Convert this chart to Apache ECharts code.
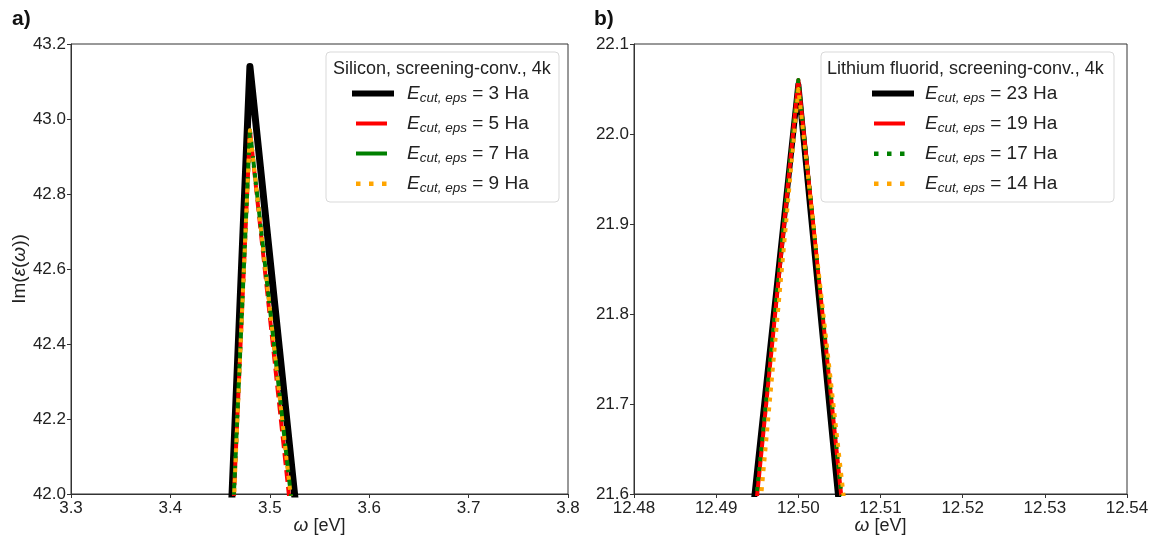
<!DOCTYPE html>
<html><head><meta charset="utf-8">
<script src="https://cdn.jsdelivr.net/npm/echarts@6/dist/echarts.min.js"></script>
<style>html,body{margin:0;padding:0;background:#fff}#c{width:1150px;height:537px}</style>
</head><body><div id="c"></div>
<script>
// ---- data ----
const siX = [3.43, 3.48, 3.53];
const si3 = [39.97, 43.14, 41.87];
const si5 = [39.94, 42.97, 41.73];
const si7 = [39.96, 42.97, 41.79];
const si9 = [39.90, 42.97, 41.78];
const siNames = ['3 Ha', '5 Ha', '7 Ha', '9 Ha'];

const lifX = [12.49, 12.50, 12.51];
const lif23 = [21.20, 22.055, 21.11];
const lif19 = [21.14, 22.06, 21.175];
const lif17 = [21.15, 22.06, 21.18];
const lif14 = [21.05, 22.05, 21.23];
const lifNames = ['23 Ha', '19 Ha', '17 Ha', '14 Ha'];

const siXTicks = {min: 3.3, max: 3.8, interval: 0.1};
const siYTicks = {min: 42.0, max: 43.2, interval: 0.2};
const lifXTicks = {min: 12.48, max: 12.54, interval: 0.01};
const lifYTicks = {min: 21.6, max: 22.1, interval: 0.1};

function pairs(xs, ys){ return xs.map((x,i)=>[x, ys[i]]); }

const FONT = '"Liberation Sans", Arial, sans-serif';
const labelStyle = {color:'#222', fontSize:17, fontFamily:FONT};
const ital = {fontStyle:'italic', fontSize:19, fontFamily:FONT, color:'#222'};

function xAxis(idx, t, dec){
  return {type:'value', gridIndex:idx, min:t.min, max:t.max, interval:t.interval,
    name:'{w|ω}{n| [eV]}', nameLocation:'middle', nameGap:32, nameMoveOverlap:false,
    nameTextStyle:{color:'#222', fontSize:18, fontFamily:FONT, verticalAlign:'middle',
      rich:{w:ital, n:{fontSize:18, fontFamily:FONT, color:'#222'}}},
    axisLine:{show:true, onZero:false, lineStyle:{color:'#333', width:1}},
    axisTick:{show:true, length:4, lineStyle:{color:'#333'}},
    axisLabel:Object.assign({margin:6, formatter:v=>v.toFixed(dec)}, labelStyle),
    splitLine:{show:false}};
}
function yAxis(idx, t, dec, name){
  return {type:'value', gridIndex:idx, min:t.min, max:t.max, interval:t.interval,
    name:name||'', nameLocation:'middle', nameGap:42, nameRotate:90,
    nameTextStyle:{color:'#222', fontSize:19, fontFamily:FONT, rich:{w:ital, n:{fontSize:19, fontFamily:FONT, color:'#222'}}},
    axisLine:{show:true, onZero:false, lineStyle:{color:'#333', width:1}},
    axisTick:{show:true, length:4, lineStyle:{color:'#333'}},
    axisLabel:Object.assign({margin:5, formatter:v=>v.toFixed(dec)}, labelStyle),
    splitLine:{show:false}};
}

function ser(name, idx, xs, ys, color, width, type, z){
  return {name:name, type:'line', xAxisIndex:idx, yAxisIndex:idx, data:pairs(xs, ys),
    symbol:'none', showSymbol:false, clip:true, z:z, animation:false,
    lineStyle:{color:color, width:width, type:type, cap:'butt', join:'round'},
    itemStyle:{color:color}};
}

const rich = {
  e:{fontStyle:'italic', fontSize:19, fontFamily:FONT, color:'#222'},
  s:{fontStyle:'italic', fontSize:13.5, fontFamily:FONT, color:'#222', padding:[9,0,0,0]},
  n:{fontSize:19, fontFamily:FONT, color:'#222'}
};
function legendFmt(name){ const v = name.split('|')[1]; return '{e|E}{s|cut, eps}{n| = ' + v + '}'; }

// legend icon shapes (42x16 box; tiny corner squares fix the box)
const BOX = 'M0,0h0.01v0.01h-0.01z M41.99,15.99h0.01v0.01h-0.01z ';
const iconThick = 'path://' + BOX + 'M0,5h42v6h-42z';
const iconLineL = 'path://' + BOX + 'M4,6h31v4h-31z';
const iconDotsL = 'path://' + BOX + 'M4,6h4.5v4.5h-4.5z M17,6h4.5v4.5h-4.5z M30,6h4.5v4.5h-4.5z';
const iconLineR = 'path://' + BOX + 'M2,6h31v4h-31z';
const iconDotsR = 'path://' + BOX + 'M2,6h4.5v4.5h-4.5z M15,6h4.5v4.5h-4.5z M28,6h4.5v4.5h-4.5z';

function legend(left, names, icons, textPad){
  return {show:true, orient:'vertical', left:left, top:84,
    padding:0, itemGap:9, itemWidth:42, itemHeight:16, symbolKeepAspect:false,
    itemStyle:{borderWidth:0},
    data:names.map((n,i)=>({name:n, icon:icons[i]})),
    formatter:legendFmt, textStyle:{rich:rich, padding:[0,0,0,textPad]}, selectedMode:false, z:20};
}

const siFull = siNames.map((n,i)=>'si'+i+'|'+n);
const lifFull = lifNames.map((n,i)=>'lif'+i+'|'+n);

const option = {
  backgroundColor:'#fff',
  animation:false,
  textStyle:{fontFamily:FONT},
  title:[
    {text:'a)', left:7, top:4, textStyle:{fontSize:21, fontWeight:'bold', color:'#111', fontFamily:FONT}},
    {text:'b)', left:589, top:4, textStyle:{fontSize:21, fontWeight:'bold', color:'#111', fontFamily:FONT}},
    {text:'Silicon, screening-conv., 4k', left:328, top:55, z:30, textStyle:{fontSize:18, fontWeight:'normal', color:'#222', fontFamily:FONT}},
    {text:'Lithium fluorid, screening-conv., 4k', left:822, top:55, z:30, textStyle:{fontSize:18, fontWeight:'normal', color:'#222', fontFamily:FONT}}
  ],
  graphic:[
    {type:'rect', z:15, shape:{x:326, y:52, width:233, height:150, r:4}, style:{fill:'rgba(255,255,255,0.85)', stroke:'#d9d9d9', lineWidth:1}},
    {type:'rect', z:15, shape:{x:821, y:52, width:293, height:150, r:4}, style:{fill:'rgba(255,255,255,0.85)', stroke:'#d9d9d9', lineWidth:1}}
  ],
  grid:[
    {left:71, right:582, top:44, bottom:43, show:true, borderColor:'#333', borderWidth:1, containLabel:false, outerBoundsMode:'none'},
    {left:634, right:23, top:44, bottom:43, show:true, borderColor:'#333', borderWidth:1, containLabel:false, outerBoundsMode:'none'}
  ],
  xAxis:[xAxis(0, siXTicks, 1), xAxis(1, lifXTicks, 2)],
  yAxis:[yAxis(0, siYTicks, 1, '{n|Im(}{w|ε}{n|(}{w|ω}{n|))}'), yAxis(1, lifYTicks, 1)],
  legend:[
    legend(352, siFull, [iconThick, iconLineL, iconLineL, iconDotsL], 8),
    legend(872, lifFull, [iconThick, iconLineR, iconDotsR, iconDotsR], 6)
  ],
  series:[
    ser(siFull[0], 0, siX, si3, '#000000', 7, 'solid', 2),
    ser(siFull[1], 0, siX, si5, '#ff0000', 4, [12,5], 3),
    ser(siFull[2], 0, siX, si7, '#008000', 4, [12,5], 4),
    ser(siFull[3], 0, siX, si9, '#ffa500', 4, [4,6], 5),
    ser(lifFull[0], 1, lifX, lif23, '#000000', 6, 'solid', 2),
    ser(lifFull[1], 1, lifX, lif19, '#ff0000', 4, 'solid', 3),
    ser(lifFull[2], 1, lifX, lif17, '#008000', 4, [4,6], 4),
    ser(lifFull[3], 1, lifX, lif14, '#ffa500', 4, [4,6], 5)
  ]
};
const chart = echarts.init(document.getElementById('c'), null, {renderer:'canvas'});
chart.setOption(option);
</script></body></html>
